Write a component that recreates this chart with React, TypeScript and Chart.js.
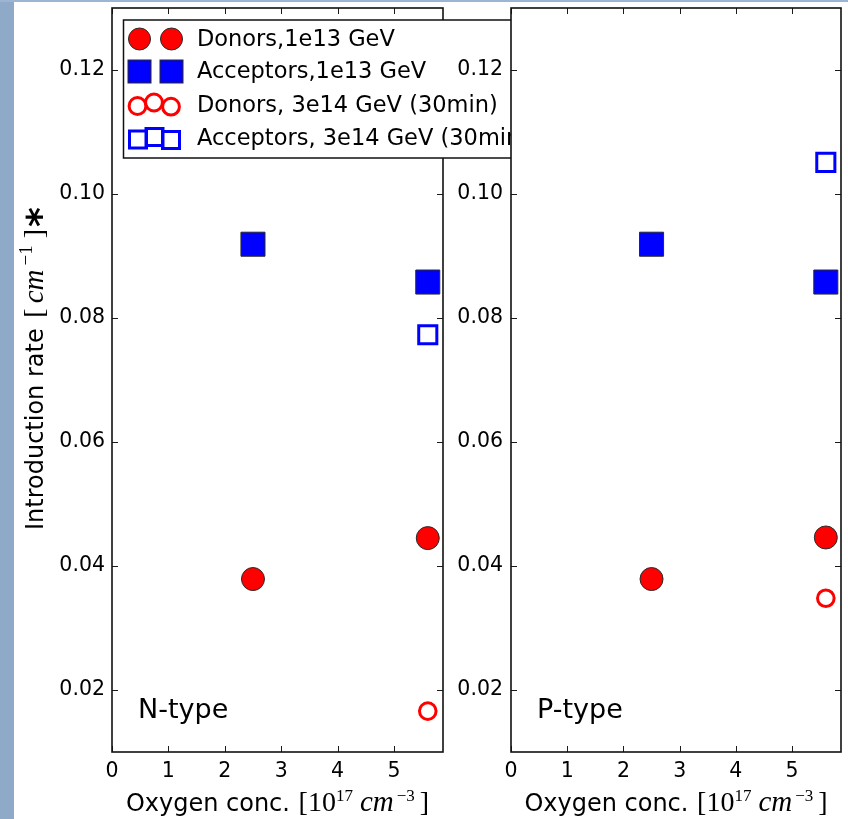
import { useEffect, useRef } from "react";
import { Chart, registerables } from "chart.js";

Chart.register(...registerables);

// Axis ticks and ranges
const xTicks = [0, 1, 2, 3, 4, 5];
const xTickLabels = ["0", "1", "2", "3", "4", "5"];
const yTicks = [0.02, 0.04, 0.06, 0.08, 0.1, 0.12];
const yTickLabels = ["0.02", "0.04", "0.06", "0.08", "0.10", "0.12"];
const xMin = 0;
const xMax = 5.87;
const yMin = 0.01;
const yMax = 0.13;

// Oxygen concentrations [1e17 cm^-3]
const oxygen1e13 = [2.5, 5.6];
const oxygen3e14 = [5.6];

// N-type introduction rates [cm^-1]
const nDonors1e13 = [0.0379, 0.0445];
const nAcceptors1e13 = [0.0919, 0.0858];
const nDonors3e14 = [0.0166];
const nAcceptors3e14 = [0.0773];

// P-type introduction rates [cm^-1]
const pDonors1e13 = [0.0379, 0.0446];
const pAcceptors1e13 = [0.0919, 0.0858];
const pDonors3e14 = [0.0348];
const pAcceptors3e14 = [0.1051];

const seriesLabels = [
  "Donors,1e13 GeV",
  "Acceptors,1e13 GeV",
  "Donors, 3e14 GeV (30min)",
  "Acceptors, 3e14 GeV (30min)",
];

const RED = "#ff0000";
const BLUE = "#0000ff";
const EDGE = "#2a2a2a";
const SANS = "'DejaVu Sans', sans-serif";
const SERIF = "'Liberation Serif', 'DejaVu Serif', serif";

type Piece = { t: string; f: string; dy?: number; gap?: number };

function drawRich(
  ctx: CanvasRenderingContext2D,
  pieces: Piece[],
  x: number,
  y: number,
  align: "left" | "center"
) {
  let total = 0;
  for (const p of pieces) {
    ctx.font = p.f;
    total += ctx.measureText(p.t).width + (p.gap || 0);
  }
  let cx = align === "center" ? x - total / 2 : x;
  ctx.textAlign = "left";
  ctx.textBaseline = "alphabetic";
  for (const p of pieces) {
    ctx.font = p.f;
    cx += p.gap || 0;
    ctx.fillText(p.t, cx, y + (p.dy || 0));
    cx += ctx.measureText(p.t).width;
  }
}

const xTitle: Piece[] = [
  { t: "Oxygen conc. ", f: `24px ${SANS}` },
  { t: "[", f: `28px ${SERIF}`, gap: 1 },
  { t: "10", f: `28px ${SERIF}` },
  { t: "17", f: `17px ${SERIF}`, dy: -10 },
  { t: "cm", f: `italic 29px ${SERIF}`, gap: 7 },
  { t: "\u22123", f: `17px ${SERIF}`, dy: -10, gap: 3 },
  { t: "]", f: `28px ${SERIF}`, gap: 5 },
];

const yTitle: Piece[] = [
  { t: "Introduction rate ", f: `24px ${SANS}` },
  { t: "[", f: `28px ${SERIF}`, gap: 3 },
  { t: "cm", f: `italic 29px ${SERIF}`, gap: 5 },
  { t: "\u22121", f: `19px ${SERIF}`, dy: -11, gap: 4 },
  { t: "]", f: `28px ${SERIF}`, gap: 7 },
  { t: "*", f: `bold 38px ${SANS}`, dy: 10, gap: 2 },
];

function makeDatasets(
  donors1e13: number[],
  acceptors1e13: number[],
  donors3e14: number[],
  acceptors3e14: number[]
) {
  return [
    {
      label: seriesLabels[0],
      data: oxygen1e13.map((x, i) => ({ x, y: donors1e13[i] })),
      pointStyle: "circle",
      pointRadius: 11.5,
      backgroundColor: RED,
      borderColor: EDGE,
      borderWidth: 1,
      showLine: false,
    },
    {
      label: seriesLabels[1],
      data: oxygen1e13.map((x, i) => ({ x, y: acceptors1e13[i] })),
      pointStyle: "rect",
      pointRadius: 17,
      backgroundColor: BLUE,
      borderColor: EDGE,
      borderWidth: 1,
      showLine: false,
    },
    {
      label: seriesLabels[2],
      data: oxygen3e14.map((x, i) => ({ x, y: donors3e14[i] })),
      pointStyle: "circle",
      pointRadius: 8.3,
      backgroundColor: "rgba(0,0,0,0)",
      borderColor: RED,
      borderWidth: 3,
      showLine: false,
    },
    {
      label: seriesLabels[3],
      data: oxygen3e14.map((x, i) => ({ x, y: acceptors3e14[i] })),
      pointStyle: "rect",
      pointRadius: 12.8,
      backgroundColor: "rgba(0,0,0,0)",
      borderColor: BLUE,
      borderWidth: 3,
      showLine: false,
    },
  ];
}

// White axes face, behind everything else of that chart
const facePlugin = {
  id: "face",
  beforeDraw(chart: any) {
    const { ctx, chartArea: a } = chart;
    ctx.save();
    ctx.fillStyle = "#ffffff";
    ctx.fillRect(a.left, a.top, a.right - a.left, a.bottom - a.top);
    ctx.restore();
  },
};

// Box frame with inward ticks on all four sides, plus axis titles
function framePlugin(panelLabel: string, withYTitle: boolean) {
  return {
    id: "frame",
    afterDraw(chart: any) {
      const { ctx, chartArea: a } = chart;
      const xs = chart.scales.x;
      const ys = chart.scales.y;
      ctx.save();
      ctx.strokeStyle = "#1a1a1a";
      ctx.lineWidth = 1;
      const tl = 6;
      ctx.beginPath();
      for (const v of xTicks) {
        const px = Math.round(xs.getPixelForValue(v)) + 0.5;
        ctx.moveTo(px, a.bottom);
        ctx.lineTo(px, a.bottom - tl);
        ctx.moveTo(px, a.top);
        ctx.lineTo(px, a.top + tl);
      }
      for (const v of yTicks) {
        const py = Math.round(ys.getPixelForValue(v)) + 0.5;
        ctx.moveTo(a.left, py);
        ctx.lineTo(a.left + tl, py);
        ctx.moveTo(a.right, py);
        ctx.lineTo(a.right - tl, py);
      }
      ctx.stroke();
      ctx.lineWidth = 1.6;
      ctx.strokeStyle = "#111";
      ctx.strokeRect(a.left, a.top, a.right - a.left, a.bottom - a.top);

      ctx.fillStyle = "#000";
      ctx.font = `27px ${SANS}`;
      ctx.textAlign = "left";
      ctx.textBaseline = "alphabetic";
      ctx.fillText(panelLabel, a.left + 26, a.bottom - 34);

      drawRich(ctx, xTitle, (a.left + a.right) / 2, 811, "center");

      if (withYTitle) {
        ctx.save();
        ctx.translate(43, 530);
        ctx.rotate(-Math.PI / 2);
        drawRich(ctx, yTitle, 0, 0, "left");
        ctx.restore();
      }
      ctx.restore();
    },
  };
}

// Legend box belonging to the N-type panel
const legendPlugin = {
  id: "panelLegend",
  afterDraw(chart: any) {
    const { ctx } = chart;
    ctx.save();
    const left = 123.5;
    const top = 20;
    const bottom = 158;
    const right = 530;
    ctx.fillStyle = "#fff";
    ctx.fillRect(left, top, right - left, bottom - top);
    ctx.strokeStyle = "#111";
    ctx.lineWidth = 1.5;
    ctx.strokeRect(left, top, right - left, bottom - top);

    const rows = [39, 71.5, 105, 138];
    // filled circles
    for (const cx of [139.5, 171.5]) {
      ctx.beginPath();
      ctx.arc(cx, rows[0], 11, 0, Math.PI * 2);
      ctx.fillStyle = RED;
      ctx.fill();
      ctx.lineWidth = 1;
      ctx.strokeStyle = EDGE;
      ctx.stroke();
    }
    // filled squares
    for (const cx of [139.5, 171.5]) {
      ctx.fillStyle = BLUE;
      ctx.fillRect(cx - 11.5, rows[1] - 11.5, 23, 23);
      ctx.lineWidth = 1;
      ctx.strokeStyle = EDGE;
      ctx.strokeRect(cx - 11.5, rows[1] - 11.5, 23, 23);
    }
    // open circles
    const oc: [number, number][] = [
      [137.5, 106],
      [154, 102.5],
      [171, 106.7],
    ];
    ctx.lineWidth = 3;
    ctx.strokeStyle = RED;
    for (const [cx, cy] of oc) {
      ctx.beginPath();
      ctx.arc(cx, cy, 8.4, 0, Math.PI * 2);
      ctx.stroke();
    }
    // open squares
    const os: [number, number][] = [
      [138, 139.5],
      [154.5, 137],
      [171, 140],
    ];
    ctx.strokeStyle = BLUE;
    for (const [cx, cy] of os) {
      ctx.strokeRect(cx - 8.5, cy - 8.5, 17, 17);
    }

    ctx.fillStyle = "#000";
    ctx.font = `22.5px ${SANS}`;
    ctx.textAlign = "left";
    ctx.textBaseline = "middle";
    seriesLabels.forEach((s, i) => ctx.fillText(s, 197, rows[i] + 1));
    ctx.restore();
  },
};

function buildOptions(padLeft: number, padRight: number, yWidth: number, yPad: number) {
  const tickFont = { family: SANS, size: 20.5 };
  return {
    responsive: false,
    animation: false as const,
    events: [],
    layout: { autoPadding: false, padding: { left: padLeft, right: padRight, top: 8, bottom: 0 } },
    plugins: { legend: { display: false }, tooltip: { enabled: false } },
    scales: {
      x: {
        type: "linear" as const,
        min: xMin,
        max: xMax,
        grid: { display: false, drawTicks: false },
        border: { display: false },
        ticks: {
          font: tickFont,
          color: "#000",
          padding: 7,
          autoSkip: false,
          maxRotation: 0,
          callback: (_v: any, i: number) => xTickLabels[i],
        },
        afterBuildTicks: (s: any) => {
          s.ticks = xTicks.map((v) => ({ value: v }));
        },
        afterFit: (s: any) => {
          s.height = 67;
          s.paddingLeft = 0;
          s.paddingRight = 0;
        },
      },
      y: {
        type: "linear" as const,
        min: yMin,
        max: yMax,
        grid: { display: false, drawTicks: false },
        border: { display: false },
        ticks: {
          font: tickFont,
          color: "#000",
          padding: yPad,
          autoSkip: false,
          callback: (_v: any, i: number) => yTickLabels[i],
        },
        afterBuildTicks: (s: any) => {
          s.ticks = yTicks.map((v) => ({ value: v }));
        },
        afterFit: (s: any) => {
          s.width = yWidth;
          s.paddingTop = 0;
          s.paddingBottom = 0;
        },
      },
    },
  };
}

export default function App() {
  const nRef = useRef<HTMLCanvasElement>(null);
  const pRef = useRef<HTMLCanvasElement>(null);

  useEffect(() => {
    const nChart = new Chart(nRef.current!, {
      type: "scatter",
      data: { datasets: makeDatasets(nDonors1e13, nAcceptors1e13, nDonors3e14, nAcceptors3e14) as any },
      options: buildOptions(0, 405, 112, 7) as any,
      plugins: [facePlugin, framePlugin("N-type", true), legendPlugin],
    });
    const pChart = new Chart(pRef.current!, {
      type: "scatter",
      data: { datasets: makeDatasets(pDonors1e13, pAcceptors1e13, pDonors3e14, pAcceptors3e14) as any },
      options: buildOptions(451, 7, 60, 8) as any,
      plugins: [facePlugin, framePlugin("P-type", false)],
    });
    return () => {
      nChart.destroy();
      pChart.destroy();
    };
  }, []);

  const canvasStyle: React.CSSProperties = {
    position: "absolute",
    left: 0,
    top: 0,
    display: "block",
  };

  return (
    <div
      style={{
        position: "absolute",
        left: 0,
        top: 0,
        width: 848,
        height: 819,
        background: "#ffffff",
        overflow: "hidden",
      }}
    >
      <div style={{ position: "absolute", left: 0, top: 0, width: 14, height: 819, background: "#8eaac8" }} />
      <div style={{ position: "absolute", left: 0, top: 0, width: 848, height: 2, background: "#9db5d2" }} />
      <canvas ref={nRef} width={848} height={819} style={canvasStyle} />
      <canvas ref={pRef} width={848} height={819} style={canvasStyle} />
    </div>
  );
}
